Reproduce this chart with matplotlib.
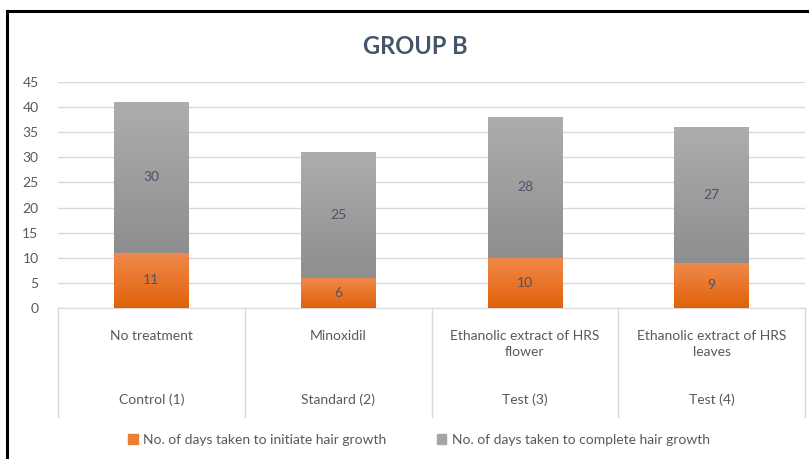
import numpy as np
import matplotlib
matplotlib.use("Agg")
import matplotlib.pyplot as plt
from matplotlib.colors import LinearSegmentedColormap
from matplotlib.lines import Line2D
from matplotlib.patches import Patch
import matplotlib.transforms as mtransforms

plt.rcParams['font.family'] = ['Lato', 'DejaVu Sans']

# data
treatments = ["No treatment", "Minoxidil", "Ethanolic extract of HRS\nflower", "Ethanolic extract of HRS\nleaves"]
groups = ["Control (1)", "Standard (2)", "Test (3)", "Test (4)"]
initiate = [11, 6, 10, 9]
complete = [30, 25, 28, 27]
series_names = ["No. of days taken to initiate hair growth", "No. of days taken to complete hair growth"]

orange_cmap = LinearSegmentedColormap.from_list("org", ["#E0620A", "#F08A4B"])
grey_cmap = LinearSegmentedColormap.from_list("gry", ["#8E8E8E", "#ADADAD"])

fig = plt.figure(figsize=(8.09, 4.59), dpi=100)
ax = fig.add_axes([58/809, 151/459, 747/809, 226/459])

x = np.arange(len(groups))
w = 0.4
b1 = ax.bar(x, initiate, w, color="#ED7D31", zorder=2)
b2 = ax.bar(x, complete, w, bottom=initiate, color="#A5A5A5", zorder=2)

# gradient fill like the excel bars
grad = np.linspace(0, 1, 256).reshape(-1, 1)
for bars, cmap in [(b1, orange_cmap), (b2, grey_cmap)]:
    for p in bars:
        x0, y0 = p.get_x(), p.get_y()
        ax.imshow(grad, cmap=cmap, origin="lower", aspect="auto", zorder=3,
                  extent=[x0, x0 + p.get_width(), y0, y0 + p.get_height()])

for i in range(len(groups)):
    ax.text(x[i], initiate[i] / 2, str(initiate[i]), ha="center", va="center",
            fontsize=10, color="#4A5468", zorder=4)
    ax.text(x[i], initiate[i] + complete[i] / 2, str(complete[i]), ha="center", va="center",
            fontsize=10, color="#4A5468", zorder=4)

ax.set_xlim(-0.5, len(groups) - 0.5)
ax.set_ylim(0, 45)
ax.set_yticks(range(0, 46, 5))
ax.yaxis.grid(True, color="#D9D9D9", lw=1)
ax.set_axisbelow(True)
ax.tick_params(axis="y", length=0, pad=14, labelsize=10, labelcolor="#595959")
ax.set_xticks([])
for s in ["top", "right", "left"]:
    ax.spines[s].set_visible(False)
ax.spines["bottom"].set_color("#D9D9D9")

# multi-level category axis
trans = mtransforms.blended_transform_factory(ax.transData, ax.transAxes)
for i in range(len(groups)):
    ax.text(x[i], -0.097, treatments[i], transform=trans, ha="center", va="top",
            fontsize=10, color="#595959", linespacing=1.4)
    ax.text(x[i], -0.408, groups[i], transform=trans, ha="center", va="center",
            fontsize=10, color="#595959")
for xb in np.arange(-0.5, len(groups), 1.0):
    ax.plot([xb, xb], [0, -0.482], transform=trans, color="#D9D9D9", lw=1, clip_on=False)

fig.text(415/809, 1 - 46/459, "GROUP B", ha="center", va="center", fontsize=17,
         fontweight="bold", color="#44546A")

handles = [Patch(color="#ED7D31"), Patch(color="#A5A5A5")]
fig.legend(handles, series_names, loc="center", bbox_to_anchor=(419/809, 19/459), ncol=2,
           frameon=False, fontsize=10, handlelength=0.7, handleheight=0.7, handletextpad=0.4,
           columnspacing=3.6, labelcolor="#595959")

# chart border
fig.add_artist(Line2D([7/809, 7/809], [0, 1 - 11/459], color="black", lw=2.2))
fig.add_artist(Line2D([7/809, 1], [1 - 11/459, 1 - 11/459], color="black", lw=2.2))

fig.savefig("out.png", dpi=100)
